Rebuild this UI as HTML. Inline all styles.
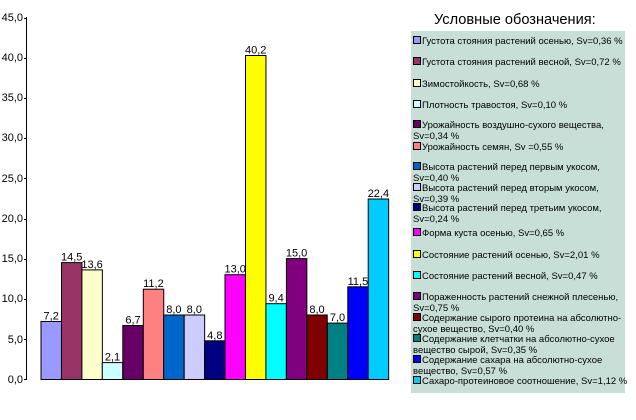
<!DOCTYPE html>
<html><head><meta charset="utf-8"><style>
html,body{margin:0;padding:0;background:#fff;}
body{width:636px;height:420px;position:relative;overflow:hidden;font-family:"Liberation Sans",sans-serif;}
.leg{position:absolute;left:411px;top:31px;width:214px;height:362px;background:#c8dfd8;}
.it{position:absolute;left:413px;font-size:9.5px;line-height:11px;color:#000;white-space:nowrap;}
.it i{display:inline-block;width:6px;height:6px;border:1px solid #000;margin-right:1px;vertical-align:0px;}
.title{position:absolute;left:434px;top:12px;font-size:14.6px;color:#000;}
</style></head><body>
<svg width="636" height="420" style="position:absolute;left:0;top:0" font-family="Liberation Sans, sans-serif">
<g font-size="11" text-anchor="end" fill="#000">
<text x="23" y="383">0,0</text><text x="23" y="343">5,0</text><text x="23" y="302">10,0</text>
<text x="23" y="262">15,0</text><text x="23" y="222">20,0</text><text x="23" y="182">25,0</text>
<text x="23" y="141">30,0</text><text x="23" y="101">35,0</text><text x="23" y="61">40,0</text><text x="23" y="21">45,0</text>
</g>
<g stroke="#000" stroke-width="1">
<line x1="26.5" y1="17" x2="26.5" y2="380"/>
<line x1="24" y1="379.5" x2="26.5" y2="379.5"/><line x1="24" y1="339.5" x2="26.5" y2="339.5"/>
<line x1="24" y1="299.5" x2="26.5" y2="299.5"/><line x1="24" y1="259.5" x2="26.5" y2="259.5"/>
<line x1="24" y1="219.5" x2="26.5" y2="219.5"/><line x1="24" y1="178.5" x2="26.5" y2="178.5"/>
<line x1="24" y1="138.5" x2="26.5" y2="138.5"/><line x1="24" y1="98.5" x2="26.5" y2="98.5"/>
<line x1="24" y1="58.5" x2="26.5" y2="58.5"/><line x1="24" y1="18.5" x2="26.5" y2="18.5"/>
</g>
<g id="bars" stroke="#000" stroke-width="1"></g>
<g id="lbl" font-size="11" text-anchor="middle" fill="#000"></g>
</svg>
<script>
var v=[7.2,14.5,13.6,2.1,6.7,11.2,8.0,8.0,4.8,13.0,40.2,9.4,15.0,8.0,7.0,11.5,22.4];
var c=["#9999ff","#993366","#ffffcc","#ccffff","#660066","#ff8080","#0066cc","#ccccff","#000080","#ff00ff","#ffff00","#00ffff","#800080","#800000","#008080","#0000ff","#00ccff"];
var b=document.getElementById('bars'),l=document.getElementById('lbl'),ns="http://www.w3.org/2000/svg";
for(var i=0;i<v.length;i++){var x=41+i*20.45,h=v[i]*8.06,y=379.5-h;
var r=document.createElementNS(ns,'rect');r.setAttribute('x',x.toFixed(1));r.setAttribute('y',y.toFixed(1));r.setAttribute('width','20.45');r.setAttribute('height',h.toFixed(1));r.setAttribute('fill',c[i]);b.appendChild(r);
var t=document.createElementNS(ns,'text');t.setAttribute('x',(x+10.2).toFixed(1));t.setAttribute('y',(y-2).toFixed(1));t.textContent=v[i].toFixed(1).replace('.',',');l.appendChild(t);}
</script>
<div class="title">Условные обозначения:</div>
<div class="leg"></div>
<div class="it" style="top:36px"><i style="background:#9999ff"></i>Густота стояния растений осенью, Sv=0,36 %</div>
<div class="it" style="top:57px"><i style="background:#993366"></i>Густота стояния растений весной, Sv=0,72 %</div>
<div class="it" style="top:79px"><i style="background:#ffffcc"></i>Зимостойкость, Sv=0,68 %</div>
<div class="it" style="top:100px"><i style="background:#ccffff"></i>Плотность травостоя, Sv=0,10 %</div>
<div class="it" style="top:120px"><i style="background:#660066"></i>Урожайность воздушно-сухого вещества,<br>Sv=0,34 %</div>
<div class="it" style="top:142px"><i style="background:#ff8080"></i>Урожайность семян, Sv =0,55 %</div>
<div class="it" style="top:162px"><i style="background:#0066cc"></i>Высота растений перед первым укосом,<br>Sv=0,40 %</div>
<div class="it" style="top:183px"><i style="background:#ccccff"></i>Высота растений перед вторым укосом,<br>Sv=0,39 %</div>
<div class="it" style="top:203px"><i style="background:#000080"></i>Высота растений перед третьим укосом,<br>Sv=0,24 %</div>
<div class="it" style="top:228px"><i style="background:#ff00ff"></i>Форма куста осенью, Sv=0,65 %</div>
<div class="it" style="top:250px"><i style="background:#ffff00"></i>Состояние растений осенью, Sv=2,01 %</div>
<div class="it" style="top:271px"><i style="background:#00ffff"></i>Состояние растений весной, Sv=0,47 %</div>
<div class="it" style="top:292px"><i style="background:#800080"></i>Пораженность растений снежной плесенью,<br>Sv=0,75 %</div>
<div class="it" style="top:313px"><i style="background:#800000"></i>Содержание сырого протеина на абсолютно-<br>сухое вещество, Sv=0,40 %</div>
<div class="it" style="top:334px"><i style="background:#008080"></i>Содержание клетчатки на абсолютно-сухое<br>вещество сырой, Sv=0,35 %</div>
<div class="it" style="top:355px"><i style="background:#0000ff"></i>Содержание сахара на абсолютно-сухое<br>вещество, Sv=0,57 %</div>
<div class="it" style="top:376px"><i style="background:#00ccff"></i>Сахаро-протеиновое соотношение, Sv=1,12 %</div>
</body></html>
